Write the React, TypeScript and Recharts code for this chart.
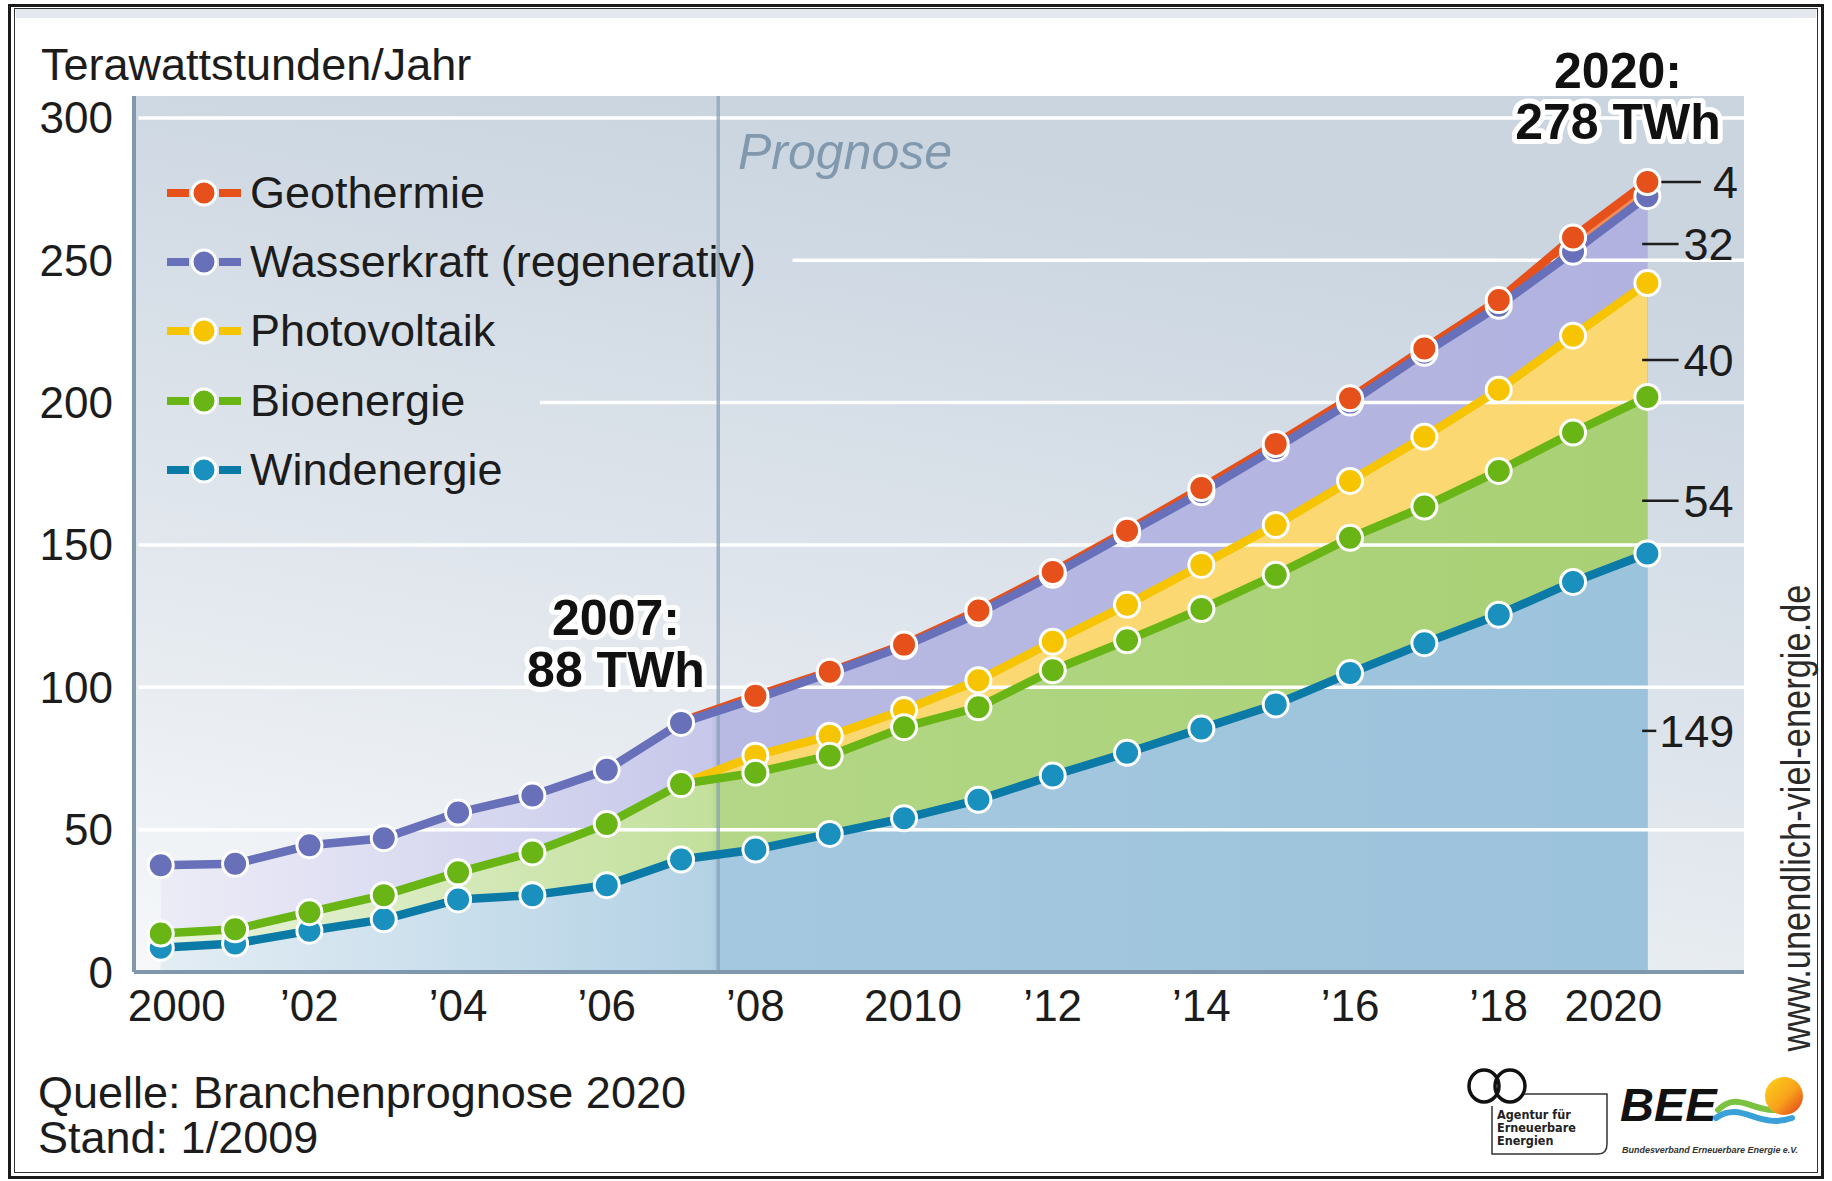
import React from 'react';
import {
  ComposedChart,
  Area,
  Line,
  XAxis,
  YAxis,
  CartesianGrid,
  ReferenceLine,
} from 'recharts';

const FONT = '"Liberation Sans", Arial, Helvetica, sans-serif';
const INK = '#1c1c1c';

// ---------- data (TWh/Jahr, Summenlinien der gestapelten Flächen) ----------

const YEARS = [
  2000, 2001, 2002, 2003, 2004, 2005, 2006, 2007, 2008, 2009, 2010,
  2011, 2012, 2013, 2014, 2015, 2016, 2017, 2018, 2019, 2020,
];
const WIND_TOP = [8.5, 10, 14.5, 18.5, 25.5, 27, 30.5, 39.5, 43, 48.5, 54, 60.5, 69, 77, 85.5, 94, 105, 115.5, 125.5, 137, 147];
const BIO_TOP = [13.5, 15, 21, 27, 35, 42, 52, 66, 70, 76, 86, 93, 106, 116.5, 127.5, 139.5, 152.5, 163.5, 176, 189.5, 202];
const PV_TOP = [null, null, null, null, null, null, null, 66, 76, 83, 92, 102.5, 116, 129, 143, 157, 172.5, 188, 204.5, 223.5, 242];
const HYDRO_TOP = [37.5, 38, 44.5, 47, 56, 62, 71, 87.5, 96, 105, 114.5, 126, 139.5, 154, 168.5, 184, 200, 217.5, 234, 253, 272.5];
const GEO_TOP = [null, null, null, null, null, null, null, 88, 97, 105.5, 115, 127, 140.5, 155, 170, 185.5, 201.5, 219, 236, 258, 277.5];

const X_TICKS = [2000, 2002, 2004, 2006, 2008, 2010, 2012, 2014, 2016, 2018, 2020];
const X_LABELS = ['2000', '’02', '’04', '’06', '’08', '2010', '’12', '’14', '’16', '’18', '2020'];
const Y_TICKS = [0, 50, 100, 150, 200, 250, 300];

const SERIES_NAMES = ['Geothermie', 'Wasserkraft (regenerativ)', 'Photovoltaik', 'Bioenergie', 'Windenergie'];

// Anteile 2020 rechts am Rand
const SHARE_LABELS = ['4', '32', '40', '54', '149'];
const SHARE_LEVELS = [277.5, 255.7, 215, 165.5, 84.7];

const PROGNOSE_FROM = 2007.5;

// ---------- styles ----------

const COLORS = {
  geo: '#e6501a',
  hydro: '#6770b9',
  pv: '#f6c400',
  bio: '#6ab516',
  wind: '#0b7aa6',
  windDot: '#1990bd',
};
const LEGEND_COLORS = [
  [COLORS.geo, COLORS.geo],
  [COLORS.hydro, COLORS.hydro],
  [COLORS.pv, COLORS.pv],
  [COLORS.bio, COLORS.bio],
  [COLORS.wind, COLORS.windDot],
];
const X_DOMAIN: [number, number] = [1999.64, 2021.3];
const Y_DOMAIN: [number, number] = [0, 307.7];
const X_TICK_SHIFT: Record<number, number> = { 2000: 16, 2010: 9, 2020: -34 };
const GRID_START: Record<number, number> = { 200: 2005.1, 250: 2008.5 };
const DASH_SPAN = [
  [2020.16, 2020.72, 12],
  [2019.93, 2020.42, 5],
  [2019.93, 2020.42, 5],
  [2019.93, 2020.42, 5],
  [2019.93, 2020.12, 3],
];

const data = YEARS.map((year, i) => ({
  year,
  wind: WIND_TOP[i],
  bio: BIO_TOP[i],
  pv: PV_TOP[i],
  hydro: HYDRO_TOP[i],
  geo: GEO_TOP[i],
}));

function makeDot(name: string, color: string, fromYear: number) {
  return (p: any) => {
    const { cx, cy, payload, index, value } = p;
    const key = `${name}-dot-${index}`;
    if (cx == null || cy == null || value == null || payload.year < fromYear) return <g key={key} />;
    return <circle key={key} cx={cx} cy={cy} r={12.5} fill={color} stroke="#fff" strokeWidth={3} />;
  };
}

function XTick(props: any) {
  const { x, y, payload } = props;
  const i = X_TICKS.indexOf(payload.value);
  return (
    <text
      x={x + (X_TICK_SHIFT[payload.value] ?? 0)}
      y={y + 25}
      textAnchor="middle"
      dominantBaseline="central"
      fontFamily={FONT}
      fontSize={44}
      fill={INK}
    >
      {X_LABELS[i]}
    </text>
  );
}

function YTick(props: any) {
  const { x, y, payload } = props;
  return (
    <text x={x - 13} y={y} textAnchor="end" dominantBaseline="central" fontFamily={FONT} fontSize={44} fill={INK}>
      {payload.value}
    </text>
  );
}

function LegendBox() {
  return (
    <div style={{ position: 'absolute', left: 167, top: 158, fontFamily: FONT, fontSize: 45, color: INK }}>
      {SERIES_NAMES.map((name, i) => (
        <div key={name} style={{ display: 'flex', alignItems: 'center', height: 69.3 }}>
          <svg width={74} height={30}>
            <rect x={0} y={11} width={22} height={8} fill={LEGEND_COLORS[i][0]} />
            <rect x={52} y={11} width={22} height={8} fill={LEGEND_COLORS[i][0]} />
            <circle cx={37} cy={15} r={12} fill={LEGEND_COLORS[i][1]} stroke="#fff" strokeWidth={3} />
          </svg>
          <span style={{ marginLeft: 9, whiteSpace: 'nowrap' }}>{name}</span>
        </div>
      ))}
    </div>
  );
}

function Overlay() {
  const halo = { stroke: '#fff', strokeWidth: 10, paintOrder: 'stroke' as const, strokeLinejoin: 'round' as const };
  return (
    <svg width={1832} height={1181} style={{ position: 'absolute', left: 0, top: 0, pointerEvents: 'none' }}>
      <defs>
        <linearGradient id="sunGrad" x1="0" y1="0" x2="1" y2="1">
          <stop offset="0" stopColor="#ffd21a" />
          <stop offset="0.55" stopColor="#f7a21b" />
          <stop offset="1" stopColor="#e2381a" />
        </linearGradient>
      </defs>
      <text x={41} y={64} dominantBaseline="central" fontFamily={FONT} fontSize={45} fill={INK}>
        Terawattstunden/Jahr
      </text>
      <text x={738} y={152} dominantBaseline="central" fontFamily={FONT} fontSize={50} fontStyle="italic" fill="#8198ad">
        Prognose
      </text>
      <g fontFamily={FONT} fontSize={50} fontWeight="bold" fill="#111" textAnchor="middle">
        <text x={616} y={635} {...halo}>
          2007:
          <tspan x={616} dy={52}>88 TWh</tspan>
        </text>
        <text x={1618} y={88} {...halo}>
          2020:
          <tspan x={1618} dy={51}>278 TWh</tspan>
        </text>
      </g>
      <text x={38} y={1108} fontFamily={FONT} fontSize={45} fill={INK}>
        Quelle: Branchenprognose 2020
        <tspan x={38} dy={45}>Stand: 1/2009</tspan>
      </text>
      <text
        x={1796}
        y={818}
        transform="rotate(-90 1796 818)"
        textAnchor="middle"
        dominantBaseline="central"
        fontFamily='"Liberation Sans Narrow", "Liberation Sans", sans-serif'
        fontSize={40}
        textLength={467}
        lengthAdjust="spacingAndGlyphs"
        fill="#2a2a2a"
      >
        www.unendlich-viel-energie.de
      </text>
      {/* Agentur für Erneuerbare Energien */}
      <g fill="none" stroke="#111" strokeWidth={3.5}>
        <ellipse cx={1484} cy={1086} rx={15} ry={16} />
        <ellipse cx={1510} cy={1086} rx={15} ry={16} />
      </g>
      <path d="M1492 1106 V1154 H1598 Q1607 1154 1607 1144 V1094 H1524" fill="none" stroke="#333" strokeWidth={1.5} />
      <g fontFamily='"DejaVu Sans Condensed", "Liberation Sans Narrow", sans-serif' fontSize={12.5} fontWeight="bold" fill="#222">
        <text x={1497} y={1119}>
          Agentur für
          <tspan x={1497} dy={13}>Erneuerbare</tspan>
          <tspan x={1497} dy={13}>Energien</tspan>
        </text>
      </g>
      {/* BEE */}
      <text x={1620} y={1121} fontFamily={FONT} fontSize={47} fontWeight="bold" fontStyle="italic" fill="#111">
        BEE
      </text>
      <path d="M1718 1110 C1740 1088 1755 1118 1790 1108" fill="none" stroke="#7cc242" strokeWidth={6} strokeLinecap="round" />
      <path d="M1716 1118 C1742 1100 1758 1130 1792 1118" fill="none" stroke="#3aa0d8" strokeWidth={6} strokeLinecap="round" />
      <circle cx={1784} cy={1096} r={19} fill="url(#sunGrad)" />
      <text
        x={1622}
        y={1153}
        fontFamily={FONT}
        fontSize={8.5}
        fontWeight="bold"
        fontStyle="italic"
        fill="#333"
        textLength={176}
        lengthAdjust="spacingAndGlyphs"
      >
        Bundesverband Erneuerbare Energie e.V.
      </text>
    </svg>
  );
}

export default function App() {
  return (
    <div style={{ position: 'absolute', left: 0, top: 0, width: 1832, height: 1181, background: '#fff', overflow: 'hidden' }}>
      {/* frame */}
      <div style={{ position: 'absolute', left: 8, top: 4, width: 1816, height: 1175, border: '3px solid #1a1a1a', boxSizing: 'border-box' }} />
      <div style={{ position: 'absolute', left: 14, top: 8, width: 1804, height: 1165, border: '1.5px solid #333', boxSizing: 'border-box' }} />
      <div style={{ position: 'absolute', left: 16, top: 9, width: 1800, height: 9, background: '#e3e9ef' }} />

      <div style={{ position: 'absolute', left: 0, top: 0 }}>
        <ComposedChart width={1832} height={1181} data={data} margin={{ top: 96, right: 88, bottom: 149, left: 0 }}>
          <defs>
            <linearGradient id="bgGrad" x1="0" y1="1" x2="0.35" y2="0">
              <stop offset="0" stopColor="#f6f8fa" />
              <stop offset="0.5" stopColor="#dfe5ec" />
              <stop offset="1" stopColor="#cad5e0" />
            </linearGradient>
            <linearGradient id="windFill" x1="0" y1="0" x2="1" y2="0">
              <stop offset="0" stopColor="#e3edf4" />
              <stop offset="0.37" stopColor="#b4d2e5" />
              <stop offset="0.375" stopColor="#a4c8df" />
              <stop offset="1" stopColor="#9cc3dc" />
            </linearGradient>
            <linearGradient id="bioFill" x1="0" y1="0" x2="1" y2="0">
              <stop offset="0" stopColor="#eaf3dc" />
              <stop offset="0.37" stopColor="#c3e09c" />
              <stop offset="0.375" stopColor="#b3d786" />
              <stop offset="1" stopColor="#a9d074" />
            </linearGradient>
            <linearGradient id="hydroFill" x1="0" y1="0" x2="1" y2="0">
              <stop offset="0" stopColor="#ececf7" />
              <stop offset="0.37" stopColor="#c7c8ea" />
              <stop offset="0.375" stopColor="#b9bae3" />
              <stop offset="1" stopColor="#b1b2df" />
            </linearGradient>
          </defs>

          <CartesianGrid fill="url(#bgGrad)" horizontal={false} vertical={false} stroke="none" />

          <XAxis
            type="number"
            dataKey="year"
            domain={X_DOMAIN}
            ticks={X_TICKS}
            allowDataOverflow
            height={60}
            tick={<XTick />}
            tickLine={false}
            axisLine={{ stroke: '#7f98ad', strokeWidth: 4 }}
          />
          <YAxis
            type="number"
            domain={Y_DOMAIN}
            ticks={Y_TICKS}
            allowDataOverflow
            width={134}
            tick={<YTick />}
            tickLine={false}
            axisLine={{ stroke: '#7f98ad', strokeWidth: 4 }}
          />

          {/* Flächen */}
          <Area zIndex={100} type="linear" dataKey="geo" fill="#f08c5a" fillOpacity={1} stroke="none" dot={false} activeDot={false} isAnimationActive={false} />
          <Area zIndex={101} type="linear" dataKey="hydro" fill="url(#hydroFill)" fillOpacity={1} stroke="none" dot={false} activeDot={false} isAnimationActive={false} />
          <Area zIndex={102} type="linear" dataKey="pv" fill="#fcd873" fillOpacity={1} stroke="none" dot={false} activeDot={false} isAnimationActive={false} />
          <Area zIndex={103} type="linear" dataKey="bio" fill="url(#bioFill)" fillOpacity={1} stroke="none" dot={false} activeDot={false} isAnimationActive={false} />
          <Area zIndex={104} type="linear" dataKey="wind" fill="url(#windFill)" fillOpacity={1} stroke="none" dot={false} activeDot={false} isAnimationActive={false} />

          {/* weiße Rasterlinien über den Flächen */}
          {Y_TICKS.filter((v) => v > 0).map((v) => (
            <ReferenceLine
              key={`grid-${v}`}
              zIndex={150}
              segment={[
                { x: GRID_START[v] ?? 1999.7, y: v },
                { x: X_DOMAIN[1], y: v },
              ]}
              stroke="#fff"
              strokeWidth={3.5}
            />
          ))}
          <ReferenceLine zIndex={160} x={PROGNOSE_FROM} stroke="#8aa2b8" strokeOpacity={0.75} strokeWidth={3.5} />

          {/* Linien und Punkte */}
          <Line zIndex={401} type="linear" dataKey="wind" stroke={COLORS.wind} strokeWidth={8.5} strokeLinejoin="round" dot={makeDot('wind', COLORS.windDot, 2000)} activeDot={false} isAnimationActive={false} />
          <Line zIndex={402} type="linear" dataKey="pv" stroke={COLORS.pv} strokeWidth={8.5} strokeLinejoin="round" dot={makeDot('pv', COLORS.pv, 2008)} activeDot={false} isAnimationActive={false} />
          <Line zIndex={403} type="linear" dataKey="bio" stroke={COLORS.bio} strokeWidth={8.5} strokeLinejoin="round" dot={makeDot('bio', COLORS.bio, 2000)} activeDot={false} isAnimationActive={false} />
          <Line zIndex={404} type="linear" dataKey="geo" stroke={COLORS.geo} strokeWidth={8.5} strokeLinejoin="round" dot={false} activeDot={false} isAnimationActive={false} />
          <Line zIndex={405} type="linear" dataKey="hydro" stroke={COLORS.hydro} strokeWidth={8.5} strokeLinejoin="round" dot={makeDot('hydro', COLORS.hydro, 2000)} activeDot={false} isAnimationActive={false} />
          <Line zIndex={406} type="linear" dataKey="geo" stroke="none" strokeWidth={0} dot={makeDot('geo', COLORS.geo, 2008)} activeDot={false} isAnimationActive={false} />

          {/* Anteile 2020 */}
          {SHARE_LABELS.map((label, i) => (
            <ReferenceLine
              key={`share-${label}`}
              zIndex={500}
              segment={[
                { x: DASH_SPAN[i][0], y: SHARE_LEVELS[i] },
                { x: DASH_SPAN[i][1], y: SHARE_LEVELS[i] },
              ]}
              stroke={INK}
              strokeWidth={2.5}
              label={{ value: label, position: 'right', offset: DASH_SPAN[i][2], fill: INK, fontSize: 45, fontFamily: FONT }}
            />
          ))}
        </ComposedChart>
      </div>

      <LegendBox />
      <Overlay />
    </div>
  );
}
